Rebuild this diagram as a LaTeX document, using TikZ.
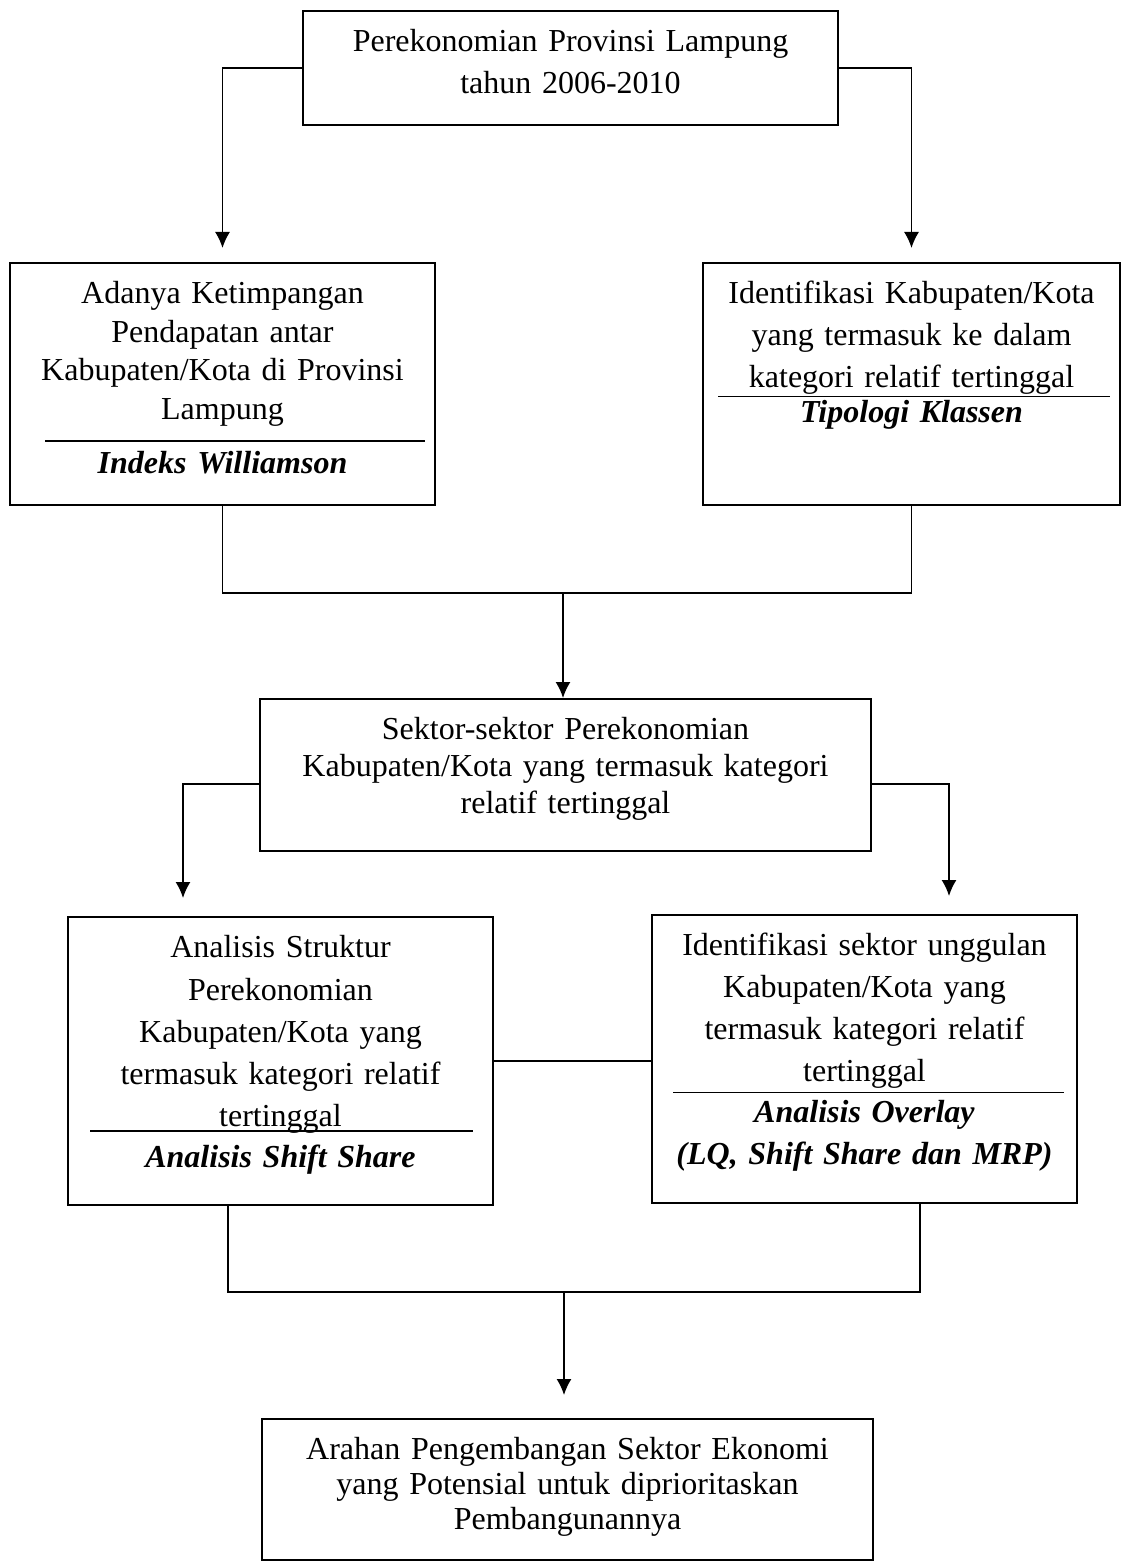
\documentclass[tikz,border=0pt]{standalone}
\usepackage{fontspec}
\setmainfont{Liberation Serif}
\usepackage{tikz}
\usetikzlibrary{arrows.meta,positioning}
\tikzstyle{block} = [rectangle, draw, line width=0.8pt, align=center, anchor=north,
    inner xsep=4pt, inner ysep=9pt, text height=11.5pt, text width=204.5pt]
\tikzstyle{line} = [draw, line width=0.8pt, -{Latex[length=8pt,width=7.5pt]}]
\tikzstyle{link} = [draw, line width=0.8pt]
\newcommand{\metode}[1]{\textbf{\textit{#1}}}
\newcommand{\garis}[2]{\hspace*{#1}\rule{#2}{0.6pt}}

\begin{document}
\begin{tikzpicture}[x=0.5pt, y=-0.5pt]
\tikzstyle{every node}=[font=\fontsize{16pt}{21pt}\selectfont]
\path [use as bounding box, fill=white] (0,0) rectangle (1123,1561);
    % Place nodes
    \node [block, text width=259.5pt, text depth=27.5pt] (lampung) at (570.5,10)
        {Perekonomian Provinsi Lampung\\tahun 2006-2010};
    \node [block, text depth=91.5pt, font=\fontsize{16pt}{19.3pt}\selectfont] (williamson) at (222.5,262)
        {Adanya Ketimpangan\\Pendapatan antar\\Kabupaten/Kota di Provinsi\\Lampung\\[-8.3pt]
         \garis{12.5pt}{190pt}\\[-3.3pt]\metode{Indeks Williamson}};
    \node [block, text width=200.5pt, text depth=91.5pt] (klassen) at (911.5,262)
        {Identifikasi Kabupaten/Kota\\yang termasuk ke dalam\\kategori relatif tertinggal\\[-16.5pt]
         \garis{2.5pt}{196pt}\\[-8pt]\metode{Tipologi Klassen}};
    \node [block, text width=297.5pt, text depth=46.5pt, font=\fontsize{16pt}{18.5pt}\selectfont] (sektor) at (565.5,698)
        {Sektor-sektor Perekonomian\\Kabupaten/Kota yang termasuk kategori\\relatif tertinggal};
    \node [block, text depth=114.5pt, font=\fontsize{16pt}{21.1pt}\selectfont] (shiftshare) at (280.5,916)
        {Analisis Struktur\\Perekonomian\\Kabupaten/Kota yang\\termasuk kategori relatif\\tertinggal\\[-18.6pt]
         \garis{1pt}{191.5pt}\\[-3.1pt]\metode{Analisis Shift Share}};
    \node [block, text depth=114.5pt] (overlay) at (864.5,914)
        {Identifikasi sektor unggulan\\Kabupaten/Kota yang\\termasuk kategori relatif\\tertinggal\\[-15.5pt]
         \garis{4pt}{195.5pt}\\[-6pt]\metode{Analisis Overlay}\\\metode{(LQ, Shift Share dan MRP)}};
    \node [block, text width=297.5pt, text depth=41pt, font=\fontsize{16pt}{17.5pt}\selectfont] (arahan) at (567.5,1418)
        {Arahan Pengembangan Sektor Ekonomi\\yang Potensial untuk diprioritaskan\\Pembangunannya};
    \coordinate (join1) at (563,593);
    \coordinate (join2) at (564,1292);

    % Draw edges
    \path [line, shorten >=7pt] (lampung.west) -| (williamson.north);
    \path [line, shorten >=7pt] (lampung.east) -| (klassen.north);
    \path [link] (williamson.south) |- (join1) -| (klassen.south);
    \path [line] (join1) -- (join1 |- sektor.north);
    \path [line, shorten >=9pt] ([yshift=-4.5pt]sektor.west) -| (183,0 |- shiftshare.north);
    \path [line, shorten >=9pt] ([yshift=-4.5pt]sektor.east) -| (949,0 |- overlay.north);
    \path [link] (shiftshare.east) -- (shiftshare.east -| overlay.west);
    \path [link] (228,0 |- shiftshare.south) |- (join2) -| (920,0 |- overlay.south);
    \path [line, shorten >=11.5pt] (join2) -- (join2 |- arahan.north);

\end{tikzpicture}
\end{document}
